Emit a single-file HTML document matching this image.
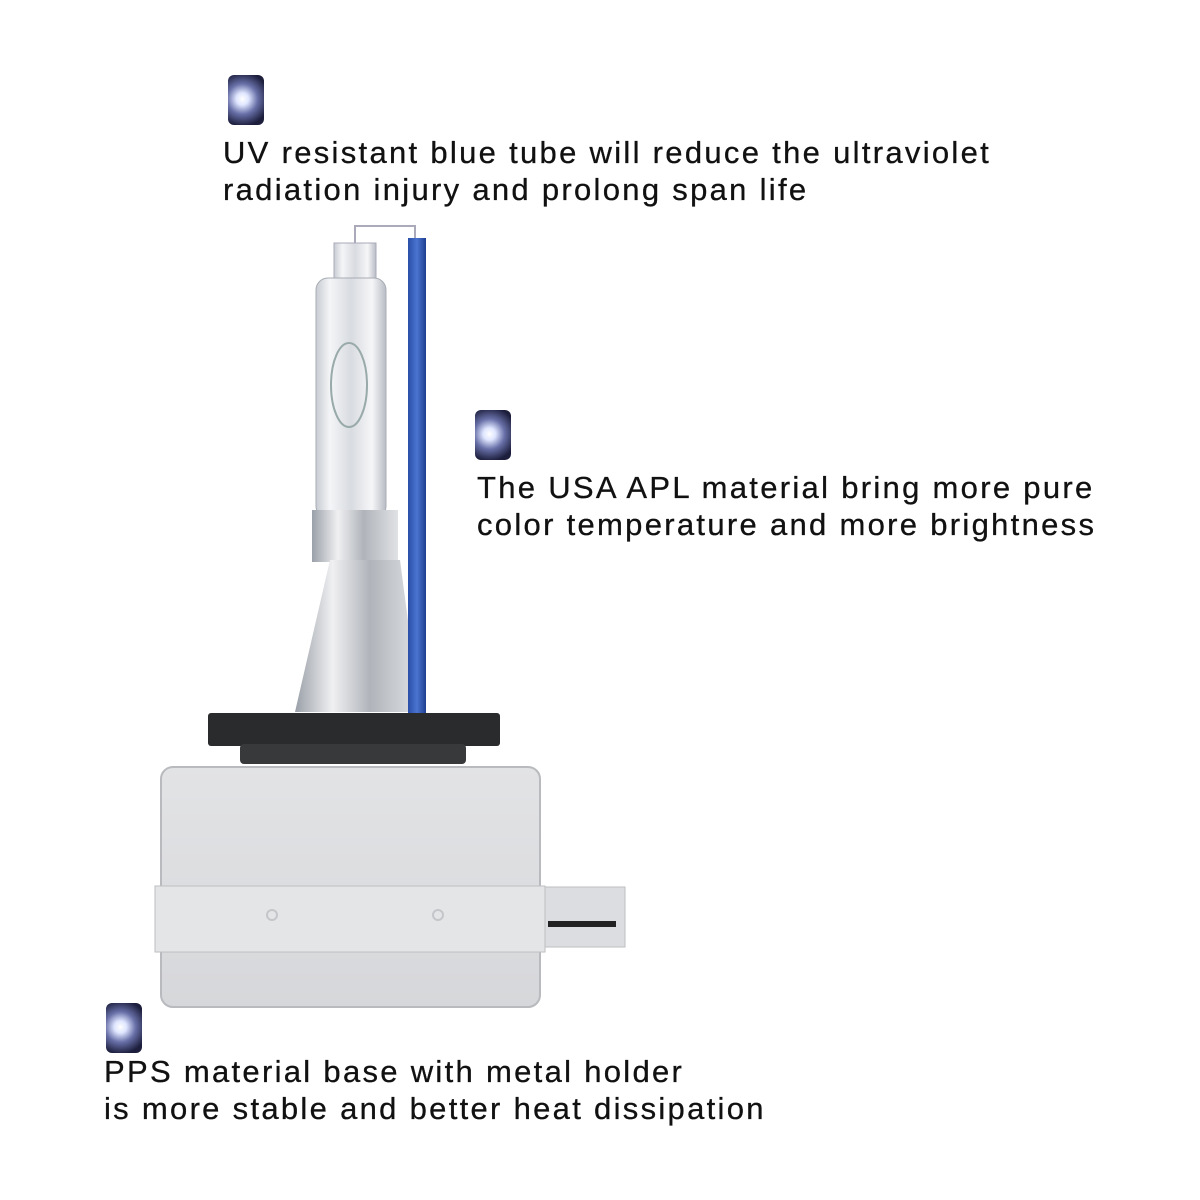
<!DOCTYPE html>
<html><head><style>
body{margin:0;background:#fff;width:1200px;height:1200px;overflow:hidden;position:relative;font-family:"Liberation Sans",sans-serif;}
.t{position:absolute;font-size:31px;line-height:37px;color:#111;letter-spacing:2.3px;white-space:nowrap;-webkit-text-stroke:0.3px #111}
.ic{position:absolute;width:36px;height:50px;border-radius:6px;background:radial-gradient(circle at 40% 48%,#fff 0,#dfe6ff 18%,#6870a8 45%,#1c1e3c 80%)}
</style></head><body>
<div class="ic" style="left:228px;top:75px"></div>
<div class="t" style="left:223px;top:134px">UV resistant blue tube will reduce the ultraviolet<br>radiation injury and prolong span life</div>
<div class="ic" style="left:475px;top:410px"></div>
<div class="t" style="left:477px;top:469px">The USA APL material bring more pure<br>color temperature and more brightness</div>
<div class="ic" style="left:106px;top:1003px"></div>
<div class="t" style="left:104px;top:1053px">PPS material base with metal holder<br>is more stable and better heat dissipation</div>
<svg width="1200" height="1200" style="position:absolute;left:0;top:0">
<defs>
<linearGradient id="gl" x1="0" x2="1"><stop offset="0" stop-color="#c8ccd2"/><stop offset=".2" stop-color="#f4f5f7"/><stop offset=".5" stop-color="#d8dbe0"/><stop offset=".8" stop-color="#f6f6f8"/><stop offset="1" stop-color="#b8bcc4"/></linearGradient>
<linearGradient id="mt" x1="0" x2="1"><stop offset="0" stop-color="#9aa0a8"/><stop offset=".3" stop-color="#f0f0f2"/><stop offset=".6" stop-color="#b0b4ba"/><stop offset="1" stop-color="#e0e2e5"/></linearGradient>
<linearGradient id="bl" x1="0" x2="1"><stop offset="0" stop-color="#2a4fa8"/><stop offset=".5" stop-color="#4a74d0"/><stop offset="1" stop-color="#1f3f90"/></linearGradient>
<linearGradient id="hs" x1="0" y1="0" x2="0" y2="1"><stop offset="0" stop-color="#e2e3e5"/><stop offset="1" stop-color="#d6d7da"/></linearGradient>
</defs>
<path d="M355 248 V226 H415 V240" fill="none" stroke="#aab" stroke-width="2"/>
<rect x="334" y="243" width="42" height="40" fill="url(#gl)" stroke="#aab"/>
<rect x="316" y="278" width="70" height="240" rx="12" fill="url(#gl)" stroke="#a8acb4"/>
<ellipse cx="349" cy="385" rx="18" ry="42" fill="none" stroke="#9aa" stroke-width="2"/>
<rect x="312" y="510" width="86" height="52" fill="url(#mt)"/>
<path d="M295 712 L330 560 L400 560 L420 712 Z" fill="url(#mt)"/>
<rect x="408" y="238" width="18" height="478" fill="url(#bl)"/>
<rect x="208" y="713" width="292" height="33" rx="3" fill="#2a2b2d"/>
<rect x="240" y="744" width="226" height="20" rx="4" fill="#38393b"/>
<rect x="161" y="767" width="379" height="240" rx="12" fill="url(#hs)" stroke="#b8babd" stroke-width="2"/>
<rect x="155" y="886" width="390" height="66" fill="#e4e5e7" stroke="#bcbec1"/>
<circle cx="272" cy="915" r="5" fill="none" stroke="#c4c6c9" stroke-width="2"/>
<circle cx="438" cy="915" r="5" fill="none" stroke="#c4c6c9" stroke-width="2"/>
<rect x="545" y="887" width="80" height="60" fill="#dcdde0" stroke="#bcbec1"/>
<rect x="548" y="921" width="68" height="6" fill="#222"/>
</svg>
</body></html>
